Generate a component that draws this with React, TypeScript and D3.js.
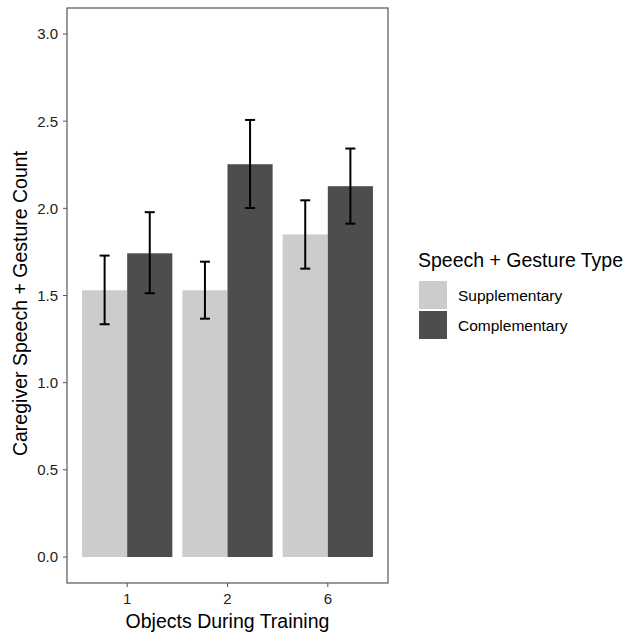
import React from "react";
import * as d3 from "d3";

// chart values
const objects = ["1", "2", "6"];
const types = ["Supplementary", "Complementary"];
const typeColors = ["#cccccc", "#4d4d4d"];
const supplementaryMean = [1.53, 1.53, 1.85];
const supplementaryLow = [1.335, 1.367, 1.654];
const supplementaryHigh = [1.729, 1.694, 2.046];
const complementaryMean = [1.742, 2.253, 2.127];
const complementaryLow = [1.513, 2.002, 1.912];
const complementaryHigh = [1.978, 2.507, 2.343];
const yTicks = [0, 0.5, 1, 1.5, 2, 2.5, 3];

const W = 627;
const H = 637;
const panel = { left: 67, top: 8, right: 388, bottom: 583 };
const FONT = "'Liberation Sans', Arial, Helvetica, sans-serif";

function App() {
  // ggplot-like discrete expansion of 0.6 on each side
  const step = (panel.right - panel.left) / (objects.length - 1 + 1.2);
  const x = d3
    .scalePoint<string>()
    .domain(objects)
    .range([panel.left + 0.6 * step, panel.right - 0.6 * step]);
  const dodge = d3.scaleBand<string>().domain(types).range([-0.45 * step, 0.45 * step]);
  const y = d3.scaleLinear().domain([0, 3]).range([557, 34]);

  const rows = objects.flatMap((o, i) => [
    { obj: o, type: types[0], mean: supplementaryMean[i], lo: supplementaryLow[i], hi: supplementaryHigh[i], color: typeColors[0] },
    { obj: o, type: types[1], mean: complementaryMean[i], lo: complementaryLow[i], hi: complementaryHigh[i], color: typeColors[1] },
  ]);

  const bw = dodge.bandwidth();

  return (
    <svg width={W} height={H} style={{ position: "absolute", left: 0, top: 0, background: "#fff" }} fontFamily={FONT}>
      {rows.map((r, i) => {
        const bx = (x(r.obj) as number) + (dodge(r.type) as number);
        return (
          <rect key={"b" + i} x={bx} y={y(r.mean)} width={bw} height={y(0) - y(r.mean)} fill={r.color} />
        );
      })}
      {rows.map((r, i) => {
        const cx = (x(r.obj) as number) + (dodge(r.type) as number) + bw / 2;
        return (
          <g key={"e" + i} stroke="#000" strokeWidth={2} fill="none">
            <line x1={cx} x2={cx} y1={y(r.lo)} y2={y(r.hi)} />
            <line x1={cx - 5} x2={cx + 5} y1={y(r.lo)} y2={y(r.lo)} />
            <line x1={cx - 5} x2={cx + 5} y1={y(r.hi)} y2={y(r.hi)} />
          </g>
        );
      })}
      <rect
        x={panel.left}
        y={panel.top}
        width={panel.right - panel.left}
        height={panel.bottom - panel.top}
        fill="none"
        stroke="#555"
        strokeWidth={1.2}
      />
      {yTicks.map((t) => (
        <g key={"y" + t}>
          <line x1={panel.left - 4} x2={panel.left} y1={y(t)} y2={y(t)} stroke="#555" strokeWidth={1} />
          <text x={panel.left - 9} y={y(t)} dy="0.36em" textAnchor="end" fontSize={15} fill="#222">
            {t.toFixed(1)}
          </text>
        </g>
      ))}
      {objects.map((o) => (
        <g key={"x" + o}>
          <line x1={x(o)} x2={x(o)} y1={panel.bottom} y2={panel.bottom + 4} stroke="#555" strokeWidth={1} />
          <text x={x(o)} y={604} textAnchor="middle" fontSize={15} fill="#222">
            {o}
          </text>
        </g>
      ))}
      <text x={(panel.left + panel.right) / 2} y={628} textAnchor="middle" fontSize={19.5} fill="#000">
        Objects During Training
      </text>
      <text
        transform={`translate(27, ${(panel.top + panel.bottom) / 2 + 8}) rotate(-90)`}
        textAnchor="middle"
        fontSize={19.5}
        fill="#000"
      >
        Caregiver Speech + Gesture Count
      </text>
      <text x={418} y={267} fontSize={19.5} fill="#000">
        Speech + Gesture Type
      </text>
      {types.map((t, i) => (
        <g key={"l" + t}>
          <rect x={419} y={281 + i * 30} width={28} height={28} fill={typeColors[i]} />
          <text x={458} y={295 + i * 30} dy="0.36em" fontSize={15.5} fill="#000">
            {t}
          </text>
        </g>
      ))}
    </svg>
  );
}

export default App;
